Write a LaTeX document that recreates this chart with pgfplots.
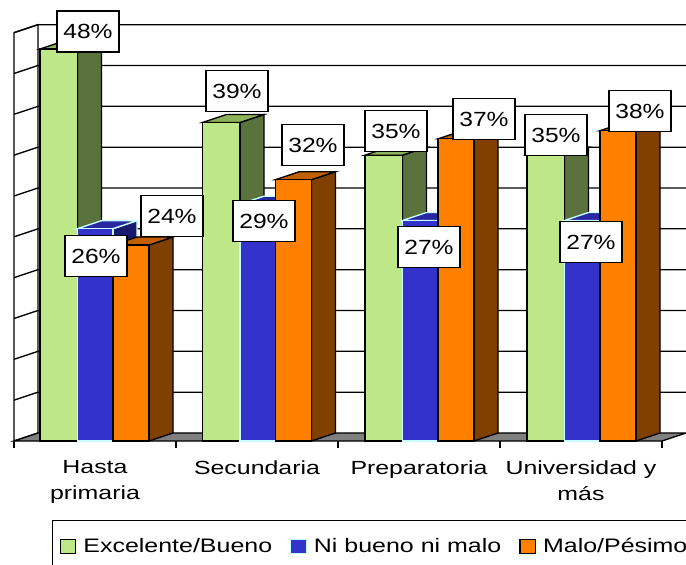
\documentclass[border=0pt]{standalone}
\usepackage{pgfplots}
\pgfplotsset{compat=1.18}
\usepackage{fontspec}
\setmainfont{Liberation Sans}
\newfontfamily\axfont{Liberation Sans}[FakeStretch=1.31]
\newfontfamily\lblfont{Liberation Sans}[FakeStretch=1.2]
\newfontfamily\legfont{Liberation Sans}[FakeStretch=1.28]
\definecolor{gfront}{RGB}{190,232,135}
\definecolor{gside}{RGB}{90,115,60}
\definecolor{gtop}{RGB}{140,178,90}
\definecolor{bfront}{RGB}{51,51,204}
\definecolor{bside}{RGB}{25,25,110}
\definecolor{btop}{RGB}{40,40,160}
\definecolor{bedge}{RGB}{200,255,255}
\definecolor{ofront}{RGB}{255,128,0}
\definecolor{oside}{RGB}{128,64,0}
\definecolor{otop}{RGB}{192,96,0}
\definecolor{floorgray}{RGB}{128,128,128}
\pgfplotsset{sqlegend/.style={legend image code/.code={\draw[##1] (0pt,-7pt) rectangle (15.5pt,7pt);}}}
\begin{document}
\begin{tikzpicture}
\path[use as bounding box] (0,-124pt) rectangle (686pt,441pt);
\clip (0,-124pt) rectangle (686pt,441pt);
\begin{axis}[
  at={(0,0)}, anchor=south west,
  scale only axis, width=686pt, height=441pt,
  xmin=0, xmax=686, ymin=0, ymax=54,
  enlargelimits=false,
  axis line style={draw=none},
  ytick=\empty,
  xtick={95,257,419,581},
  xticklabels={{Hasta\\primaria},{Secundaria},{Preparatoria},{Universidad y\\más}},
  xticklabel style={font=\axfont\fontsize{19}{26}\selectfont, align=center, text=black, yshift=-16pt},
  major tick length=0pt,
  xtick pos=bottom,
  tick align=outside,
  extra x ticks={14,176,338,500,662},
  extra x tick labels={},
  extra x tick style={major tick length=7pt, tick style={black, line width=1.3pt}},
  legend columns=3,
  legend style={at={(axis description cs:0.0758,-0.179)}, anchor=north west,
    draw=black, line width=1.3pt, inner xsep=7pt, inner ysep=16pt,
    font=\legfont\fontsize{19.5}{23}\selectfont,
    /tikz/every odd column/.append style={column sep=5pt},
    /tikz/every even column/.append style={column sep=16pt}},
]
% left wall
\addplot[forget plot, fill=white, draw=black, line width=1.3pt] coordinates {(14,0) (38,0.98) (38,50.98) (14,50)} -- cycle;
% floor
\addplot[forget plot, fill=floorgray, draw=black, line width=1.3pt] coordinates {(14,0) (662,0) (686,0.98) (38,0.98)} -- cycle;
% gridlines on side and back walls
\addplot[forget plot, black, line width=1.3pt] coordinates {(14,5) (38,5.98) (690,5.98)};
\addplot[forget plot, black, line width=1.3pt] coordinates {(14,10) (38,10.98) (690,10.98)};
\addplot[forget plot, black, line width=1.3pt] coordinates {(14,15) (38,15.98) (690,15.98)};
\addplot[forget plot, black, line width=1.3pt] coordinates {(14,20) (38,20.98) (690,20.98)};
\addplot[forget plot, black, line width=1.3pt] coordinates {(14,25) (38,25.98) (690,25.98)};
\addplot[forget plot, black, line width=1.3pt] coordinates {(14,30) (38,30.98) (690,30.98)};
\addplot[forget plot, black, line width=1.3pt] coordinates {(14,35) (38,35.98) (690,35.98)};
\addplot[forget plot, black, line width=1.3pt] coordinates {(14,40) (38,40.98) (690,40.98)};
\addplot[forget plot, black, line width=1.3pt] coordinates {(14,45) (38,45.98) (690,45.98)};
\addplot[forget plot, black, line width=1.3pt] coordinates {(14,50) (38,50.98) (690,50.98)};
% ---------- green series ----------
\addplot[forget plot, fill=gside, draw=black, line width=1.3pt] coordinates {(77.5,0) (101.5,0.98) (101.5,48.98) (77.5,48)} -- cycle;
\addplot[forget plot, fill=gside, draw=black, line width=1.3pt] coordinates {(240,0) (264,0.98) (264,39.98) (240,39)} -- cycle;
\addplot[forget plot, fill=gside, draw=black, line width=1.3pt] coordinates {(402.5,0) (426.5,0.98) (426.5,35.98) (402.5,35)} -- cycle;
\addplot[forget plot, fill=gside, draw=black, line width=1.3pt] coordinates {(564.5,0) (588.5,0.98) (588.5,35.98) (564.5,35)} -- cycle;
\addplot[forget plot, fill=gtop, draw=black, line width=1.3pt] coordinates {(40,48) (77.5,48) (101.5,48.98) (64,48.98)} -- cycle;
\addplot[forget plot, fill=gtop, draw=black, line width=1.3pt] coordinates {(202.5,39) (240,39) (264,39.98) (226.5,39.98)} -- cycle;
\addplot[forget plot, fill=gtop, draw=black, line width=1.3pt] coordinates {(365,35) (402.5,35) (426.5,35.98) (389,35.98)} -- cycle;
\addplot[forget plot, fill=gtop, draw=black, line width=1.3pt] coordinates {(527,35) (564.5,35) (588.5,35.98) (551,35.98)} -- cycle;
\addplot[ybar, bar width=37.5, bar shift=0pt, fill=gfront, draw=black, line width=1.3pt, sqlegend]
  coordinates {(58.75,48) (221.25,39) (383.75,35) (545.75,35)};
\addlegendentry{Excelente/Bueno}
% ---------- blue series ----------
\addplot[forget plot, fill=bside, draw=bedge, line width=1.3pt] coordinates {(113,0) (137,0.98) (137,26.98) (113,26)} -- cycle;
\addplot[forget plot, fill=bside, draw=bedge, line width=1.3pt] coordinates {(275.5,0) (299.5,0.98) (299.5,29.98) (275.5,29)} -- cycle;
\addplot[forget plot, fill=bside, draw=bedge, line width=1.3pt] coordinates {(438,0) (462,0.98) (462,27.98) (438,27)} -- cycle;
\addplot[forget plot, fill=bside, draw=bedge, line width=1.3pt] coordinates {(600,0) (624,0.98) (624,27.98) (600,27)} -- cycle;
\addplot[forget plot, fill=btop, draw=bedge, line width=1.3pt] coordinates {(77.5,26) (113,26) (137,26.98) (101.5,26.98)} -- cycle;
\addplot[forget plot, fill=btop, draw=bedge, line width=1.3pt] coordinates {(240,29) (275.5,29) (299.5,29.98) (264,29.98)} -- cycle;
\addplot[forget plot, fill=btop, draw=bedge, line width=1.3pt] coordinates {(402.5,27) (438,27) (462,27.98) (426.5,27.98)} -- cycle;
\addplot[forget plot, fill=btop, draw=bedge, line width=1.3pt] coordinates {(564.5,27) (600,27) (624,27.98) (588.5,27.98)} -- cycle;
\addplot[ybar, bar width=35.5, bar shift=0pt, fill=bfront, draw=bedge, line width=1.3pt, sqlegend]
  coordinates {(95.25,26) (257.75,29) (420.25,27) (582.25,27)};
\addlegendentry{Ni bueno ni malo}
% ---------- orange series ----------
\addplot[forget plot, fill=oside, draw=black, line width=1.3pt] coordinates {(149,0) (173,0.98) (173,24.98) (149,24)} -- cycle;
\addplot[forget plot, fill=oside, draw=black, line width=1.3pt] coordinates {(311.5,0) (335.5,0.98) (335.5,32.98) (311.5,32)} -- cycle;
\addplot[forget plot, fill=oside, draw=black, line width=1.3pt] coordinates {(474,0) (498,0.98) (498,37.98) (474,37)} -- cycle;
\addplot[forget plot, fill=oside, draw=black, line width=1.3pt] coordinates {(636,0) (660,0.98) (660,38.98) (636,38)} -- cycle;
\addplot[forget plot, fill=otop, draw=black, line width=1.3pt] coordinates {(113,24) (149,24) (173,24.98) (137,24.98)} -- cycle;
\addplot[forget plot, fill=otop, draw=black, line width=1.3pt] coordinates {(275.5,32) (311.5,32) (335.5,32.98) (299.5,32.98)} -- cycle;
\addplot[forget plot, fill=otop, draw=black, line width=1.3pt] coordinates {(438,37) (474,37) (498,37.98) (462,37.98)} -- cycle;
\addplot[forget plot, fill=otop, draw=black, line width=1.3pt] coordinates {(600,38) (636,38) (660,38.98) (624,38.98)} -- cycle;
\addplot[ybar, bar width=36, bar shift=0pt, fill=ofront, draw=black, line width=1.3pt, sqlegend]
  coordinates {(131,24) (293.5,32) (456,37) (618,38)};
\addlegendentry{Malo/Pésimo}
% ---------- data labels ----------
\addplot[forget plot, only marks, mark=*, mark size=0pt, mark options={draw=none, fill=none},
  nodes near coords, point meta=explicit symbolic,
  nodes near coords style={font=\lblfont\fontsize{20.5}{24}\selectfont, text=black,
    draw=black, fill=white, line width=1.3pt, minimum width=62pt, minimum height=41pt,
    inner sep=0pt, anchor=center}]
  coordinates {
    (88,50.14)[48\%] (172,27.55)[24\%] (96,22.65)[26\%]
    (237,42.86)[39\%] (313,36.24)[32\%] (264,26.94)[29\%]
    (396,37.96)[35\%] (484,39.43)[37\%] (429,23.75)[27\%]
    (556,37.47)[35\%] (640,40.41)[38\%] (591,24.37)[27\%]
  };
\end{axis}
\end{tikzpicture}
\end{document}
